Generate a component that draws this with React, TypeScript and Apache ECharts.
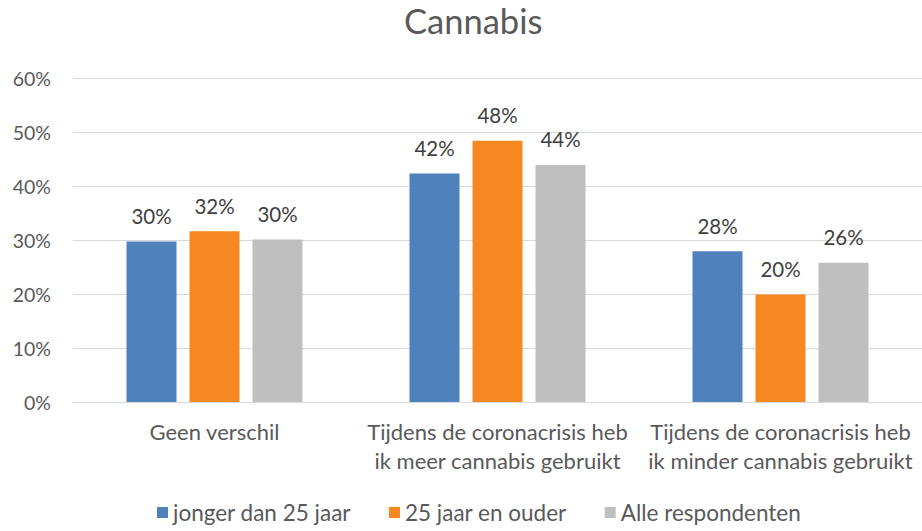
import React, { useEffect, useRef } from "react";
import * as echarts from "echarts";

const categories = [
  "Geen verschil",
  "Tijdens de coronacrisis heb\nik meer cannabis gebruikt",
  "Tijdens de coronacrisis heb\nik minder cannabis gebruikt",
];
const seriesNames = ["jonger dan 25 jaar", "25 jaar en ouder", "Alle respondenten"];
const young = [29.7, 42.3, 27.9];
const older = [31.6, 48.4, 19.9];
const all = [30.1, 43.9, 25.8];
const colors = ["#4F81BD", "#F58821", "#BFBFBF"];
const yTicks = [0, 10, 20, 30, 40, 50, 60];

const FONT = "Lato, 'Open Sans', sans-serif";

export default function App() {
  const ref = useRef<HTMLDivElement>(null);
  useEffect(() => {
    if (!ref.current) return;
    const chart = echarts.init(ref.current, null, { renderer: "svg" });
    const values = [young, older, all];
    chart.setOption({
      animation: false,
      backgroundColor: "#ffffff",
      textStyle: { fontFamily: FONT },
      title: {
        text: "Cannabis",
        left: 399,
        top: -2,
        textStyle: { fontFamily: FONT, fontSize: 34.5, fontWeight: "normal", color: "#595959" },
      },
      legend: {
        bottom: 2,
        left: 152,
        itemWidth: 11,
        itemHeight: 11,
        itemGap: 38,
        icon: "rect",
        textStyle: { fontFamily: FONT, fontSize: 22.5, color: "#595959" },
        data: seriesNames,
      },
      grid: { left: 73, right: 0, top: 78, bottom: 129, containLabel: false },
      xAxis: {
        type: "category",
        data: categories,
        axisTick: { show: false },
        axisLine: { lineStyle: { color: "#D9D9D9", width: 1 } },
        axisLabel: {
          fontFamily: FONT,
          fontSize: 22,
          color: "#595959",
          margin: 15,
          lineHeight: 29,
          interval: 0,
        },
      },
      yAxis: {
        type: "value",
        min: yTicks[0],
        max: yTicks[yTicks.length - 1],
        interval: 10,
        axisLine: { show: false },
        axisTick: { show: false },
        splitLine: { lineStyle: { color: "#D9D9D9", width: 1 } },
        axisLabel: {
          fontFamily: FONT,
          fontSize: 19.5,
          color: "#595959",
          margin: 22,
          formatter: (v: number) => `${v}%`,
        },
      },
      series: seriesNames.map((name, i) => ({
        name,
        type: "bar",
        data: values[i],
        barWidth: 50,
        barGap: "26%",
        itemStyle: { color: colors[i] },
        label: {
          show: true,
          position: "top",
          distance: 15,
          fontFamily: FONT,
          fontSize: 20.5,
          color: "#404040",
          formatter: (p: any) => `${Math.round(p.value)}%`,
        },
      })),
    });
    return () => chart.dispose();
  }, []);
  return (
    <div
      ref={ref}
      style={{ position: "absolute", left: 0, top: 0, width: 922, height: 531 }}
    />
  );
}
